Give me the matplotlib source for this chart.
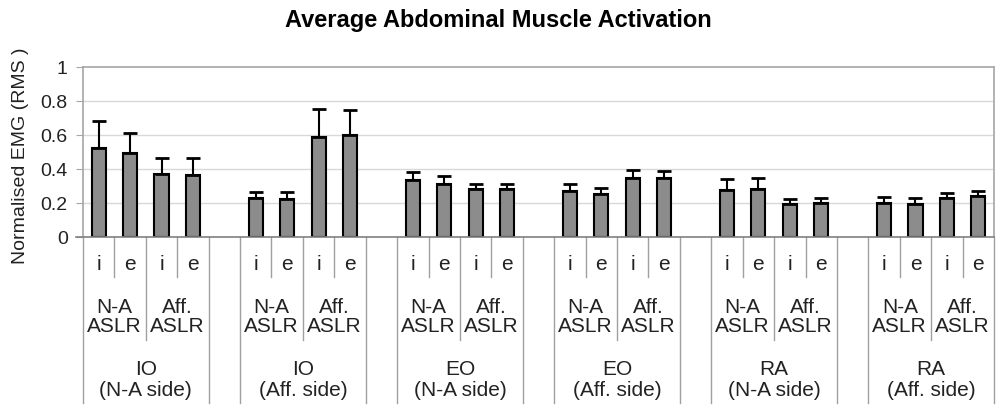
import matplotlib
matplotlib.use("Agg")
import matplotlib.pyplot as plt
from matplotlib.transforms import blended_transform_factory
import numpy as np

plt.rcParams['font.family'] = ['Liberation Sans', 'DejaVu Sans']

# ---- data ----
groups = ["IO\n(N-A side)", "IO\n(Aff. side)", "EO\n(N-A side)",
          "EO\n(Aff. side)", "RA\n(N-A side)", "RA\n(Aff. side)"]
conditions = ["N-A\nASLR", "Aff.\nASLR"]
phases = ["i", "e"]

means = [0.525, 0.494, 0.370, 0.367,
         0.228, 0.225, 0.590, 0.600,
         0.333, 0.312, 0.280, 0.280,
         0.270, 0.253, 0.347, 0.347,
         0.276, 0.280, 0.196, 0.198,
         0.200, 0.192, 0.227, 0.240]
err_top = [0.680, 0.610, 0.463, 0.463,
           0.263, 0.263, 0.755, 0.747,
           0.382, 0.359, 0.314, 0.314,
           0.310, 0.288, 0.392, 0.390,
           0.343, 0.349, 0.224, 0.229,
           0.233, 0.227, 0.260, 0.270]
yticks = [0, 0.2, 0.4, 0.6, 0.8, 1.0]
ytick_labels = ["0", "0.2", "0.4", "0.6", "0.8", "1"]

title = "Average Abdominal Muscle Activation"
ylabel = "Normalised EMG (RMS )"

# ---- layout ----
W, H = 996, 408
fig = plt.figure(figsize=(W / 100, H / 100), dpi=100)
ax_left, ax_right, ax_top, ax_bottom = 83, 994, 67, 237
ax = fig.add_axes([ax_left / W, 1 - ax_bottom / H,
                   (ax_right - ax_left) / W, (ax_bottom - ax_top) / H])

n_groups = len(groups)
per_group = len(conditions) * len(phases)
slot = per_group + 1
n_slots = n_groups * slot - 1

pos = []
for g in range(n_groups):
    for j in range(per_group):
        pos.append(g * slot + j + 0.5)
pos = np.array(pos)
means_a = np.array(means)
errs = np.array(err_top) - means_a

ax.set_xlim(0, n_slots)
ax.set_ylim(0, 1)

for y in yticks[1:-1]:
    ax.axhline(y, color="#d8d8d8", lw=1, zorder=0)

ax.bar(pos, means_a, width=0.45, color="#8c8c8c", edgecolor="black",
       linewidth=1.5, zorder=3)
ax.errorbar(pos, means_a, yerr=[np.zeros_like(errs), errs], fmt="none",
            ecolor="black", elinewidth=1.5, capsize=5, capthick=2, zorder=4)

for s in ["top", "right", "left"]:
    ax.spines[s].set_color("#a6a6a6")
    ax.spines[s].set_linewidth(1.2)
ax.spines["bottom"].set_visible(False)
ax.set_xticks([])
ax.set_yticks(yticks)
ax.set_yticklabels(ytick_labels, fontsize=14, color="#222222")
ax.tick_params(axis="y", length=5, color="#a6a6a6", pad=6)

# zero line extending a bit left
tr_zero = blended_transform_factory(fig.transFigure, ax.transData)
ax.plot([76 / W, ax_right / W], [0, 0], transform=tr_zero, color="#808080",
        lw=1.2, clip_on=False, zorder=5)

ax.set_ylabel(ylabel, fontsize=14, color="#222222")
ax.yaxis.set_label_coords(29 / W, 1 - 156 / H, transform=fig.transFigure)

fig.text(498 / W, 1 - 21 / H, title, ha="center", va="center",
         fontsize=17, fontweight="bold")

# ---- multi-level category axis ----
tr = blended_transform_factory(ax.transData, fig.transFigure)
def fy(py):
    return 1 - py / H

line_kw = dict(color="#a0a0a0", lw=1, clip_on=False, transform=tr)
for b in range(n_slots + 1):
    k = b % slot
    if b == 0 or b == n_slots or k == 0 or k == per_group:
        y_end = 403
    elif k == len(phases):
        y_end = 340
    else:
        y_end = 277
    ax.plot([b, b], [fy(ax_bottom), fy(y_end)], **line_kw)

fs = 15
for g in range(n_groups):
    base = g * slot
    for c in range(len(conditions)):
        for p in range(len(phases)):
            x = base + c * len(phases) + p + 0.5
            ax.text(x, fy(265), phases[p], transform=tr, ha="center",
                    va="center", fontsize=fs, color="#222222")
        xc = base + c * len(phases) + len(phases) / 2
        ax.text(xc, fy(317), conditions[c], transform=tr, ha="center",
                va="center", fontsize=fs, color="#222222", linespacing=1.05)
    ax.text(base + per_group / 2, fy(380), groups[g], transform=tr,
            ha="center", va="center", fontsize=fs, color="#222222",
            linespacing=1.15)

fig.savefig("out.png", dpi=100)
